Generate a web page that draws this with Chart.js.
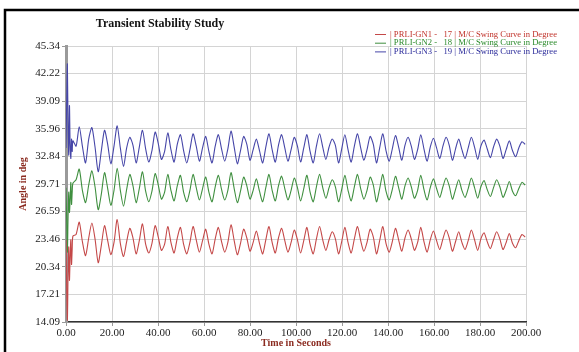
<!DOCTYPE html>
<html>
<head>
<meta charset="utf-8">
<script src="https://cdn.jsdelivr.net/npm/chart.js@4.4.1/dist/chart.umd.min.js"></script>
<style>
  html, body { margin: 0; padding: 0; background: #fff; }
  canvas { display: block; }
</style>
</head>
<body>
<canvas id="swingChart" width="579" height="352"></canvas>
<script>
// --- Data ---
const yTicks = [14.09, 17.21, 20.34, 23.46, 26.59, 29.71, 32.84, 35.96, 39.09, 42.22, 45.34];

const seriesNames = [
    "| PRLI-GN1 -   17 | M/C Swing Curve in Degree",
    "| PRLI-GN2 -   18 | M/C Swing Curve in Degree",
    "| PRLI-GN3 -   19 | M/C Swing Curve in Degree"
];

// first seconds after the fault (s)
const transientTimes = [0, 0.3, 0.6, 0.9, 1.2, 1.5, 1.8, 2.1, 2.4, 2.7];
const redTransient   = [23.4, 18.0, 14.3, 19.5, 22.6, 18.8, 21.5, 23.4, 20.6, 22.4];
const greenTransient = [29.3, 25.5, 22.0, 26.0, 28.8, 26.5, 28.0, 29.9, 27.4, 28.8];
const blueTransient  = [33.8, 39.0, 43.3, 36.0, 33.0, 38.6, 34.0, 32.6, 34.8, 33.4];

// then one sample every 1.375 s from 3 s
const swingStart = 3.0;
const swingStep = 1.375;

const redSwing = [
    23.8, 24.0, 25.4, 23.2,  21.6, 23.6, 25.3, 23.5,  20.8, 22.8, 25.0, 23.3,
    21.7, 23.1, 25.7, 23.0,  21.5, 23.2, 24.7, 23.6,  21.8, 23.3, 25.2, 22.9,
    21.9, 23.0, 25.0, 23.7,  22.2, 22.9, 24.9, 23.1,  21.9, 23.6, 24.8, 22.9,
    21.8, 23.1, 24.9, 23.4,  22.0, 23.3, 24.6, 22.9,  21.8, 23.5, 24.8, 23.2,
    22.0, 23.1, 25.1, 23.3,  21.7, 23.0, 24.6, 23.6,  22.1, 23.1, 24.4, 23.0,
    21.8, 23.4, 24.9, 23.1,  21.9, 23.6, 24.7, 23.3,  22.0, 23.1, 24.5, 23.4,
    21.9, 23.3, 24.8, 22.9,  21.8, 23.5, 24.9, 23.4,  22.2, 23.4, 24.3, 23.5,
    21.8, 23.2, 24.8, 23.1,  21.9, 23.5, 24.9, 23.3,  22.1, 23.1, 24.6, 23.7,
    21.8, 23.3, 24.9, 23.0,  22.0, 23.2, 24.7, 23.4,  22.1, 23.6, 24.5, 23.5,
    22.2, 23.1, 24.8, 23.2,  22.0, 23.4, 24.4, 23.3,  22.3, 23.5, 24.5, 23.6,
    22.1, 23.2, 24.3, 23.1,  22.3, 23.3, 24.5, 23.4,  22.2, 23.5, 24.2, 23.2,
    22.4, 23.4, 24.3, 23.5,  22.3, 23.1, 24.1, 23.0,  22.5, 23.3, 24.0, 23.7
];

const greenSwing = [
    29.8, 30.2, 31.4, 29.0,  27.6, 29.6, 31.2, 29.4,  26.8, 28.6, 31.0, 29.2,
    27.3, 29.0, 31.5, 29.0,  27.2, 29.1, 30.8, 29.5,  27.6, 29.2, 31.1, 28.9,
    27.7, 28.9, 30.9, 29.6,  28.0, 28.8, 30.8, 29.0,  27.8, 29.5, 30.7, 28.8,
    27.7, 29.0, 30.8, 29.3,  27.9, 29.2, 30.5, 28.8,  27.7, 29.4, 30.7, 29.1,
    27.9, 29.0, 31.0, 29.2,  27.6, 28.9, 30.5, 29.5,  28.0, 29.0, 30.3, 28.9,
    27.7, 29.3, 30.8, 29.0,  27.8, 29.5, 30.6, 29.2,  27.9, 29.0, 30.4, 29.3,
    27.8, 29.2, 30.7, 28.8,  27.7, 29.4, 30.8, 29.3,  28.1, 29.3, 30.2, 29.4,
    27.7, 29.1, 30.7, 29.0,  27.8, 29.4, 30.8, 29.2,  28.0, 29.0, 30.5, 29.6,
    27.7, 29.2, 30.8, 28.9,  27.9, 29.1, 30.6, 29.3,  28.0, 29.5, 30.4, 29.4,
    28.1, 29.0, 30.7, 29.1,  27.9, 29.3, 30.3, 29.2,  28.2, 29.4, 30.4, 29.5,
    28.0, 29.1, 30.2, 29.0,  28.2, 29.2, 30.4, 29.3,  28.1, 29.4, 30.1, 29.1,
    28.3, 29.3, 30.2, 29.4,  28.2, 29.0, 30.0, 28.9,  28.4, 29.2, 29.9, 29.6
];

const blueSwing = [
    34.6, 34.0, 36.2, 34.0,  32.1, 34.8, 36.1, 33.9,  31.1, 33.5, 35.8, 34.2,
    32.0, 34.0, 36.3, 33.8,  31.7, 33.8, 35.0, 34.1,  32.1, 33.9, 35.8, 33.7,
    32.2, 33.5, 35.6, 34.3,  32.5, 33.4, 35.5, 33.6,  32.2, 34.2, 35.3, 33.5,
    32.1, 33.6, 35.4, 34.0,  32.3, 33.8, 35.1, 33.4,  32.1, 34.0, 35.3, 33.7,
    32.3, 33.7, 35.7, 33.9,  32.0, 33.5, 35.1, 34.2,  32.4, 33.6, 34.8, 33.5,
    32.1, 33.9, 35.4, 33.6,  32.2, 34.1, 35.3, 33.8,  32.3, 33.6, 35.0, 34.0,
    32.2, 33.8, 35.3, 33.4,  32.1, 34.0, 35.4, 33.9,  32.5, 33.9, 34.8, 34.1,
    32.1, 33.7, 35.3, 33.6,  32.2, 34.0, 35.4, 33.8,  32.4, 33.6, 35.1, 34.2,
    32.1, 33.8, 35.4, 33.5,  32.3, 33.7, 35.2, 33.9,  32.4, 34.1, 35.0, 34.0,
    32.5, 33.6, 35.3, 33.7,  32.3, 33.9, 34.9, 33.8,  32.6, 34.0, 35.0, 34.1,
    32.4, 33.7, 34.8, 33.6,  32.6, 33.8, 35.0, 33.9,  32.5, 34.0, 34.7, 33.7,
    32.7, 33.9, 34.8, 34.0,  32.6, 33.6, 34.6, 33.5,  32.8, 33.8, 34.5, 34.2
];

// --- Styles ---
const lineColors = ["#c44848", "#3f8f3f", "#4646a8"];
const textColors = ["#c0322a", "#2a8a2a", "#2a2a9a"];
const SERIF = "'Liberation Serif', 'DejaVu Serif', serif";

function buildPoints(transient, swing) {
    const pts = transient.map((v, i) => ({ x: transientTimes[i], y: v }));
    swing.forEach((v, i) => pts.push({ x: swingStart + i * swingStep, y: v }));
    return pts;
}

// frame, title and legend drawn on the canvas
const decorPlugin = {
    id: "decor",
    beforeDraw(chart) {
        const ctx = chart.ctx;
        ctx.save();
        ctx.fillStyle = "#fff";
        ctx.fillRect(0, 0, chart.width, chart.height);
        ctx.strokeStyle = "#000";
        ctx.lineWidth = 2.5;
        ctx.beginPath();
        ctx.moveTo(5, chart.height);
        ctx.lineTo(5, 10);
        ctx.lineTo(chart.width, 10);
        ctx.stroke();
        ctx.restore();
    },
    afterDraw(chart) {
        const ctx = chart.ctx;
        ctx.save();
        ctx.fillStyle = "#111";
        ctx.font = "bold 12px " + SERIF;
        ctx.textAlign = "center";
        ctx.textBaseline = "middle";
        ctx.fillText("Transient Stability Study", 160, 24);

        ctx.font = "8.6px " + SERIF;
        ctx.textAlign = "left";
        seriesNames.forEach((name, i) => {
            const y = 34.5 + i * 8.7;
            ctx.strokeStyle = lineColors[i];
            ctx.lineWidth = 1;
            ctx.beginPath();
            ctx.moveTo(375, y);
            ctx.lineTo(386, y);
            ctx.stroke();
            ctx.fillStyle = textColors[i];
            ctx.fillText(name, 390, y);
        });
        ctx.restore();
    }
};

const ctxSwing = document.getElementById("swingChart").getContext("2d");

new Chart(ctxSwing, {
    type: "line",
    data: {
        datasets: [
            { label: seriesNames[0], data: buildPoints(redTransient, redSwing), borderColor: lineColors[0] },
            { label: seriesNames[1], data: buildPoints(greenTransient, greenSwing), borderColor: lineColors[1] },
            { label: seriesNames[2], data: buildPoints(blueTransient, blueSwing), borderColor: lineColors[2] }
        ]
    },
    options: {
        responsive: false,
        animation: false,
        devicePixelRatio: 1,
        layout: { padding: { left: 0, right: 53, top: 46, bottom: 0 } },
        elements: {
            line: { borderWidth: 1.1, tension: 0.25, fill: false },
            point: { radius: 0 }
        },
        scales: {
            x: {
                type: "linear",
                min: 0,
                max: 200,
                ticks: {
                    stepSize: 20,
                    maxRotation: 0,
                    padding: 1,
                    color: "#222",
                    font: { family: SERIF, size: 11 },
                    callback: (v) => Number(v).toFixed(2)
                },
                grid: { color: "#d4d4d4", tickLength: 4, tickColor: "#999" },
                border: { color: "#333", width: 1.5 },
                title: {
                    display: true,
                    text: "Time in Seconds",
                    color: "#8b2b20",
                    font: { family: SERIF, size: 10, weight: "bold" },
                    padding: { top: 0, bottom: 3 }
                },
                afterFit: (scale) => { scale.height = 30; }
            },
            y: {
                type: "linear",
                min: yTicks[0],
                max: yTicks[yTicks.length - 1],
                afterBuildTicks: (scale) => {
                    scale.ticks = yTicks.map(v => ({ value: v }));
                },
                ticks: {
                    padding: 2,
                    color: "#222",
                    font: { family: SERIF, size: 11 },
                    callback: (v) => Number(v).toFixed(2)
                },
                grid: { color: "#d4d4d4", tickLength: 4, tickColor: "#999" },
                border: { color: "#9a9a9a", width: 3 },
                title: {
                    display: true,
                    text: "Angle in deg",
                    color: "#8b2b20",
                    font: { family: SERIF, size: 10, weight: "bold" },
                    padding: { top: 17, bottom: 0 }
                },
                afterFit: (scale) => { scale.width = 66; }
            }
        },
        plugins: {
            legend: { display: false },
            title: { display: false },
            tooltip: { enabled: false }
        }
    },
    plugins: [decorPlugin]
});
</script>
</body>
</html>
